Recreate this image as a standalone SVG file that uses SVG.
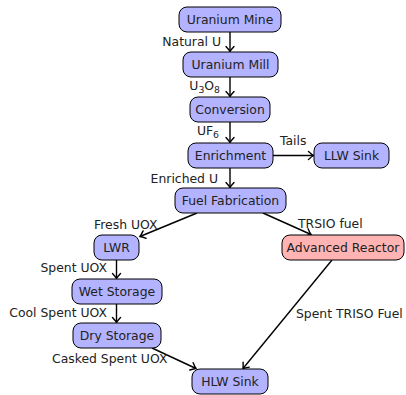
<svg xmlns="http://www.w3.org/2000/svg" width="406" height="395" viewBox="0 0 406 395">
  <style>
    .node rect { stroke: #000; stroke-width: 1; }
    .blue rect { fill: #b3b3ff; }
    .red rect { fill: #ffb3b3; }
    text { font-family: "DejaVu Sans", sans-serif; font-size: 12.4px; fill: #222; }
    .node text { text-anchor: middle; }
    .edges line { stroke: #000; stroke-width: 1.4; fill: none; marker-end: url(#arr); }
    .lbl-end { text-anchor: end; }
    .sub { font-size: 9.3px; }
  </style>
  <defs>
    <marker id="arr" markerUnits="userSpaceOnUse" viewBox="-7 -6 10 12" refX="0" refY="0" markerWidth="10" markerHeight="12" orient="auto">
      <path d="M-5,-4 Q-1.5,-0.8 0,0 Q-1.5,0.8 -5,4" fill="none" stroke="#000" stroke-width="1.4" stroke-linecap="round"/>
    </marker>
  </defs>

  <g id="edges" class="edges">
    <line x1="230" y1="32" x2="230" y2="51.5"/>
    <line x1="230" y1="77" x2="230" y2="96.5"/>
    <line x1="230" y1="122" x2="230" y2="142.5"/>
    <line x1="273" y1="155.5" x2="313.5" y2="155.5"/>
    <line x1="230" y1="168" x2="230" y2="187.5"/>
    <line x1="197" y1="213" x2="140" y2="236.5"/>
    <line x1="263" y1="213" x2="311" y2="234.5"/>
    <line x1="116.5" y1="260" x2="116.5" y2="278.5"/>
    <line x1="116.5" y1="304" x2="116.5" y2="322.5"/>
    <line x1="152" y1="348" x2="196" y2="368.5"/>
    <line x1="332" y1="260" x2="243" y2="368.5"/>
  </g>

  <g id="edge-labels">
    <text class="lbl-end" x="221" y="46">Natural U</text>
    <text class="lbl-end" x="220" y="90">U<tspan class="sub" dy="3">3</tspan><tspan dy="-3">O</tspan><tspan class="sub" dy="3">8</tspan></text>
    <text class="lbl-end" x="219" y="135">UF<tspan class="sub" dy="3">6</tspan></text>
    <text x="280" y="145">Tails</text>
    <text class="lbl-end" x="218" y="183">Enriched U</text>
    <text x="94" y="229">Fresh UOX</text>
    <text x="298" y="228">TRSIO fuel</text>
    <text class="lbl-end" x="107" y="272">Spent UOX</text>
    <text class="lbl-end" x="107" y="317">Cool Spent UOX</text>
    <text x="52" y="363">Casked Spent UOX</text>
    <text x="296" y="318">Spent TRISO Fuel</text>
  </g>

  <g id="uranium-mine" class="node blue">
    <rect x="179" y="7" width="102" height="25" rx="8"/>
    <text x="230" y="24">Uranium Mine</text>
  </g>
  <g id="uranium-mill" class="node blue">
    <rect x="183" y="52" width="95" height="25" rx="8"/>
    <text x="230.5" y="69">Uranium Mill</text>
  </g>
  <g id="conversion" class="node blue">
    <rect x="190" y="97" width="80" height="25" rx="8"/>
    <text x="230" y="114">Conversion</text>
  </g>
  <g id="enrichment" class="node blue">
    <rect x="188" y="143" width="85" height="25" rx="8"/>
    <text x="230.5" y="160">Enrichment</text>
  </g>
  <g id="llw-sink" class="node blue">
    <rect x="314" y="143" width="75" height="25" rx="8"/>
    <text x="351.5" y="160">LLW Sink</text>
  </g>
  <g id="fuel-fabrication" class="node blue">
    <rect x="175" y="188" width="111" height="25" rx="8"/>
    <text x="230.5" y="205">Fuel Fabrication</text>
  </g>
  <g id="lwr" class="node blue">
    <rect x="94" y="235" width="45" height="25" rx="8"/>
    <text x="116.5" y="252">LWR</text>
  </g>
  <g id="advanced-reactor" class="node red">
    <rect x="282" y="235" width="122" height="25" rx="8"/>
    <text x="343" y="252">Advanced Reactor</text>
  </g>
  <g id="wet-storage" class="node blue">
    <rect x="72" y="279" width="90" height="25" rx="8"/>
    <text x="117" y="296">Wet Storage</text>
  </g>
  <g id="dry-storage" class="node blue">
    <rect x="73" y="323" width="88" height="25" rx="8"/>
    <text x="117" y="340">Dry Storage</text>
  </g>
  <g id="hlw-sink" class="node blue">
    <rect x="192" y="369" width="76" height="25" rx="8"/>
    <text x="230" y="386">HLW Sink</text>
  </g>
</svg>
